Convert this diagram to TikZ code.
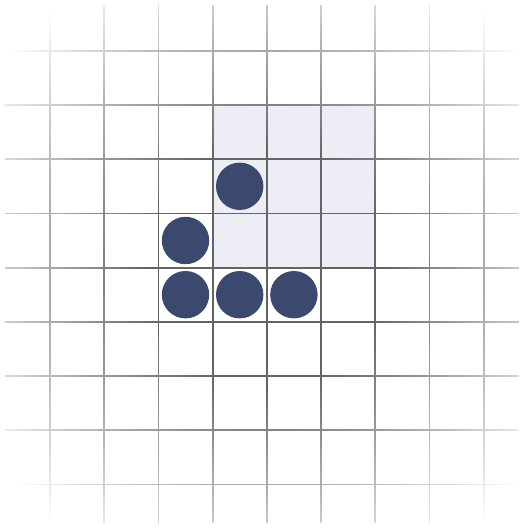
\documentclass[tikz,border=0pt]{standalone}
\definecolor{dotblue}{RGB}{60,73,111}
\definecolor{cellshade}{RGB}{236,237,245}
\definecolor{gridgray}{RGB}{100,100,100}
\tikzset{
  gridline/.style={line width=1.8pt},
  dot/.style={circle, fill=dotblue, draw=none, minimum size=47.4pt, inner sep=0pt},
  shadedcell/.style={fill=cellshade, draw=none}
}
\begin{document}
\begin{tikzpicture}[x=1pt,y=-1pt]
  \useasboundingbox (0,0) rectangle (524,528);
  \fill[white] (0,0) rectangle (524,528);
  % shaded 3x3 block
  \fill[shadedcell] (212.6,105) rectangle (375.2,267.6);
  % faded grid: vertical lines
  \foreach \i in {0,...,8} {
    \pgfmathsetmacro\xv{50+54.2*\i}
    \foreach \j in {0,...,86} {
      \pgfmathsetmacro\ya{5+6*\j}
      \pgfmathsetmacro\yb{min(\ya+6.6,523)}
      \pgfmathsetmacro\dd{100*veclen((\xv-266)/100,(\ya+3-267)/100)}
      \pgfmathsetmacro\op{max(0,min(100,(335-\dd)/2.15))}
      \draw[gridline, draw=gridgray!\op!white] (\xv,\ya) -- (\xv,\yb);
    }
  }
  % faded grid: horizontal lines
  \foreach \i in {0,...,8} {
    \pgfmathsetmacro\yv{50.8+54.2*\i}
    \foreach \j in {0,...,85} {
      \pgfmathsetmacro\xa{5+6*\j}
      \pgfmathsetmacro\xb{min(\xa+6.6,519)}
      \pgfmathsetmacro\dd{100*veclen((\xa+3-266)/100,(\yv-267)/100)}
      \pgfmathsetmacro\op{max(0,min(100,(335-\dd)/2.15))}
      \draw[gridline, draw=gridgray!\op!white] (\xa,\yv) -- (\xb,\yv);
    }
  }
  % dots
  \node[dot] (d1) at (239.7,186.3) {};
  \node[dot] (d2) at (185.5,240.5) {};
  \node[dot] (d3) at (185.5,294.7) {};
  \node[dot] (d4) at (239.7,294.7) {};
  \node[dot] (d5) at (293.9,294.7) {};
\end{tikzpicture}
\end{document}
